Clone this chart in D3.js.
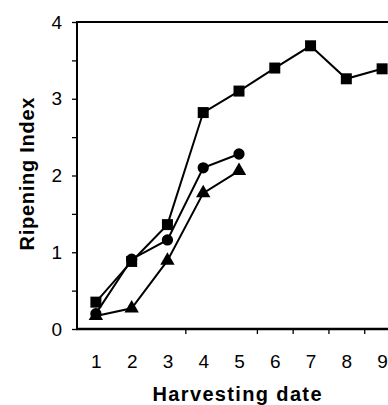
<html>
<head>
<script src="https://cdnjs.cloudflare.com/ajax/libs/d3/7.8.5/d3.min.js"></script>
<style>
body { margin: 0; background: #fff; }
svg { display: block; font-family: Arial, 'Liberation Sans', sans-serif; }
.lbl text { font-size: 19px; fill: #000; }
.tk line { stroke: #000; stroke-width: 1.3; }
</style>
</head>
<body>
<svg width="388" height="405"></svg>
<script>
// harvesting dates and ripening index
var dates = [1, 2, 3, 4, 5, 6, 7, 8, 9];
var squareVals = [0.35, 0.88, 1.36, 2.82, 3.10, 3.40, 3.69, 3.26, 3.39];
var circleVals = [0.20, 0.91, 1.16, 2.10, 2.28];
var triangleVals = [0.17, 0.27, 0.89, 1.77, 2.06];
var yLabels = [0, 1, 2, 3, 4];
var yMinor = [0, 0.5, 1, 1.5, 2, 2.5, 3, 3.5, 4];
var xTickMarks = [3.5, 5.5, 6.5, 7.5, 8.5];

var svg = d3.select("svg");
var plotL = 77, plotT = 22, plotB = 329, plotR = 400;

var x = d3.scaleLinear().domain([0.5, 9.5]).range([78, plotR]);
var y = d3.scaleLinear().domain([0, 4]).range([plotB, plotT]);

// y ticks (incl. half steps) and labels
svg.append("g").attr("class", "tk")
  .attr("transform", "translate(" + plotL + ",0)")
  .call(d3.axisLeft(y).tickValues(yMinor).tickSize(5).tickFormat(""))
  .select(".domain").remove();
svg.append("g").attr("class", "lbl")
  .attr("transform", "translate(" + (plotL + 1) + ",0)")
  .call(d3.axisLeft(y).tickValues(yLabels).tickSize(0).tickPadding(16).tickFormat(d3.format("d")))
  .call(function (g) { g.select(".domain").remove(); });

// x ticks and labels
svg.append("g").attr("class", "tk")
  .attr("transform", "translate(0," + plotB + ")")
  .call(d3.axisBottom(x).tickValues(xTickMarks).tickSize(5).tickFormat(""))
  .select(".domain").remove();
svg.append("g").attr("class", "lbl")
  .attr("transform", "translate(0," + plotB + ")")
  .call(d3.axisBottom(x).tickValues(dates).tickSize(0).tickPadding(26).tickFormat(d3.format("d")))
  .call(function (g) { g.select(".domain").remove(); });

// frame
svg.append("line").attr("x1", plotL).attr("x2", plotL).attr("y1", plotT - 1).attr("y2", plotB + 1)
  .attr("stroke", "#000").attr("stroke-width", 2);
svg.append("line").attr("x1", plotL).attr("x2", plotR).attr("y1", plotT).attr("y2", plotT)
  .attr("stroke", "#000").attr("stroke-width", 2);
svg.append("line").attr("x1", plotL - 1).attr("x2", plotR).attr("y1", plotB).attr("y2", plotB)
  .attr("stroke", "#000").attr("stroke-width", 2.5);

var line = d3.line().x(function (d, i) { return x(dates[i]); }).y(function (d) { return y(d); });

function series(vals, sym, size) {
  var g = svg.append("g");
  g.append("path").datum(vals).attr("d", line)
    .attr("fill", "none").attr("stroke", "#000").attr("stroke-width", 2);
  g.selectAll("path.pt").data(vals).enter().append("path").attr("class", "pt")
    .attr("transform", function (d, i) { return "translate(" + x(dates[i]) + "," + y(d) + ")"; })
    .attr("d", d3.symbol().type(sym).size(size))
    .attr("fill", "#000");
}
series(triangleVals, d3.symbolTriangle, 90);
series(circleVals, d3.symbolCircle, 100);
series(squareVals, d3.symbolSquare, 121);

// axis titles
svg.append("text")
  .attr("transform", "translate(34,174) rotate(-90)")
  .attr("text-anchor", "middle")
  .attr("font-size", 20).attr("font-weight", "bold")
  .attr("textLength", 153).attr("lengthAdjust", "spacing")
  .text("Ripening Index");
svg.append("text")
  .attr("x", 237).attr("y", 401)
  .attr("text-anchor", "middle")
  .attr("font-size", 20).attr("font-weight", "bold")
  .attr("textLength", 169).attr("lengthAdjust", "spacing")
  .text("Harvesting date");
</script>
</body>
</html>
